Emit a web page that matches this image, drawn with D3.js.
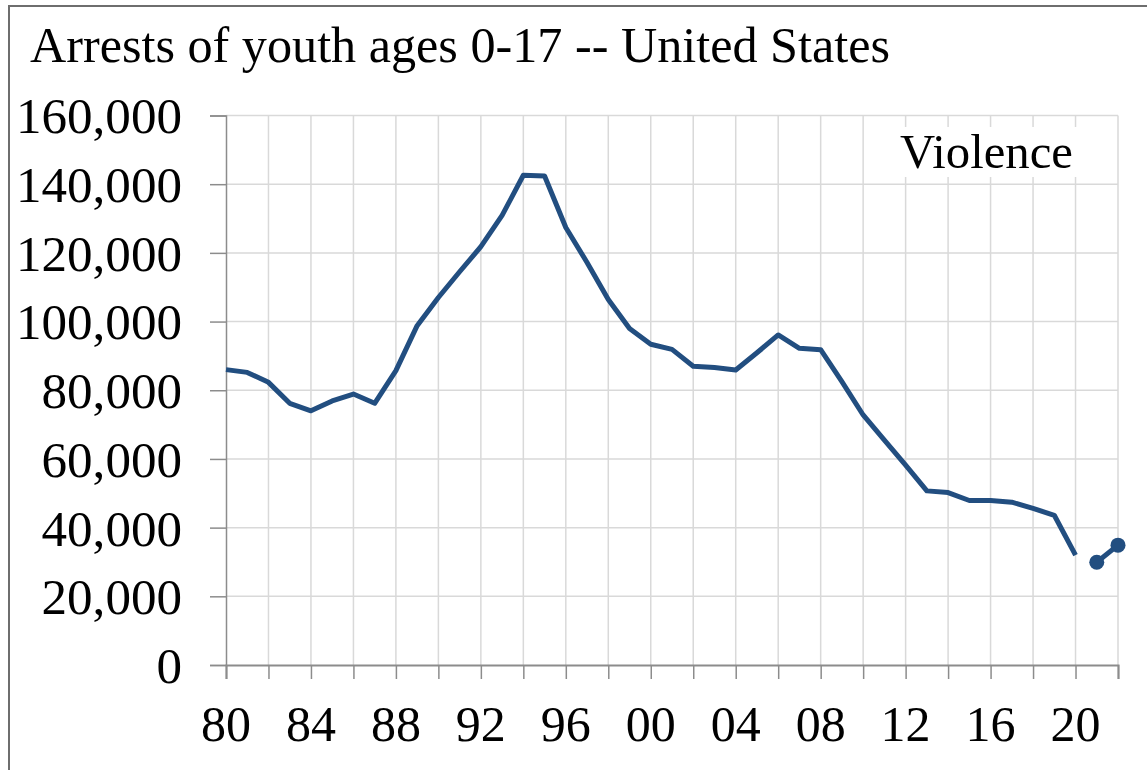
<!DOCTYPE html>
<html lang="en">
<head>
<meta charset="utf-8" />
<title>Arrests of youth ages 0-17 -- United States</title>
<style>
    body { margin: 0; background: #fff; }
    svg text { font-family: "Liberation Serif", serif; fill: #000; }
</style>
<script src="https://cdn.jsdelivr.net/npm/d3@7/dist/d3.min.js"></script>
</head>
<body>
<script>
// yearly arrests 1980-2020 (main line) and 2021-2022 (new series, with markers)
var years = d3.range(1980, 2021);
var arrests = [86000, 85200, 82300, 76200, 74000, 76900, 78900, 76200, 85700, 98800,
               107000, 114500, 121800, 130900, 142600, 142400, 127400, 117200, 106400, 98000,
               93400, 91900, 87000, 86600, 85900, 90900, 96100, 92200, 91800, 82500,
               72800, 65500, 58200, 50700, 50200, 47900, 47900, 47400, 45600, 43600,
               32000];
var recentYears = [2021, 2022];
var recentArrests = [29900, 34900];

var yTicks = [0, 20000, 40000, 60000, 80000, 100000, 120000, 140000, 160000];
var xLabelYears = [1980, 1984, 1988, 1992, 1996, 2000, 2004, 2008, 2012, 2016, 2020];

var width = 1147, height = 770;
var blue = '#224e80';

var svg = d3.select('body').append('svg')
    .attr('width', width)
    .attr('height', height);

// outer chart border (only top and left edges show in the frame)
svg.append('rect')
    .attr('x', 9).attr('y', 6)
    .attr('width', 1160).attr('height', 800)
    .attr('fill', 'none')
    .attr('stroke', '#6e6e6e')
    .attr('stroke-width', 2);

var x = d3.scaleLinear().domain([1980, 2022]).range([226, 1118]);
var y = d3.scaleLinear().domain([0, 160000]).range([665, 115.5]);

// font size that makes one sample text take the width seen in the picture
function fitSize(sel, w) {
    var fs = parseFloat(sel.attr('font-size'));
    return fs * w / sel.node().getComputedTextLength();
}

// grid
var grid = svg.append('g');
grid.selectAll('line.h')
    .data(yTicks.slice(1))
    .enter().append('line')
    .attr('x1', x(1980)).attr('x2', x(2022))
    .attr('y1', function(d) { return y(d); })
    .attr('y2', function(d) { return y(d); })
    .attr('stroke', '#d9d9d9').attr('stroke-width', 1.5);
grid.selectAll('line.v')
    .data(d3.range(1982, 2023, 2))
    .enter().append('line')
    .attr('x1', function(d) { return x(d); })
    .attr('x2', function(d) { return x(d); })
    .attr('y1', y(160000)).attr('y2', y(0))
    .attr('stroke', '#d9d9d9').attr('stroke-width', 1.5);

// y axis
var yAxis = svg.append('g')
    .attr('transform', 'translate(' + x(1980) + ',0)')
    .call(d3.axisLeft(y).tickValues(yTicks).tickSize(16).tickFormat(''));
yAxis.select('.domain').attr('stroke', '#8c8c8c').attr('stroke-width', 1.5);
yAxis.selectAll('.tick line').attr('stroke', '#8c8c8c').attr('stroke-width', 1.5);

var yLabels = svg.append('g').selectAll('text')
    .data(yTicks)
    .enter().append('text')
    .attr('x', 182)
    .attr('y', function(d) { return y(d); })
    .attr('dy', '0.35em')
    .attr('text-anchor', 'end')
    .attr('font-size', 44)
    .text(d3.format(','));
var yfs = fitSize(yLabels.filter(function(d) { return d === 160000; }), 166);
yLabels.attr('font-size', yfs.toFixed(2));

// x axis
var xAxis = svg.append('g')
    .attr('transform', 'translate(0,' + y(0) + ')')
    .call(d3.axisBottom(x).tickValues(d3.range(1980, 2023, 2)).tickSize(14).tickFormat(''));
xAxis.select('.domain').attr('stroke', '#8c8c8c').attr('stroke-width', 2);
xAxis.selectAll('.tick line').attr('stroke', '#8c8c8c').attr('stroke-width', 1.5);

var xLabels = svg.append('g').selectAll('text')
    .data(xLabelYears)
    .enter().append('text')
    .attr('x', function(d) { return x(d); })
    .attr('y', 741)
    .attr('text-anchor', 'middle')
    .attr('font-size', 46)
    .text(function(d) { return d3.format('02')(d % 100); });
var xfs = fitSize(xLabels.filter(function(d) { return d === 1980; }), 50);
xLabels.attr('font-size', xfs.toFixed(2));

// title
var title = svg.append('text')
    .attr('x', 30).attr('y', 62)
    .attr('font-size', 46)
    .text('Arrests of youth ages 0-17 -- United States');
title.attr('font-size', fitSize(title, 860).toFixed(2));

// series label with white backing
var labelBg = svg.append('rect').attr('fill', '#fff');
var label = svg.append('text')
    .attr('x', 900).attr('y', 168)
    .attr('font-size', 46)
    .text('Violence');
label.attr('font-size', fitSize(label, 173).toFixed(2));
var bb = label.node().getBBox();
labelBg.attr('x', bb.x - 4).attr('y', bb.y + 2)
    .attr('width', bb.width + 8).attr('height', bb.height - 4);

// lines
var line = d3.line()
    .x(function(d) { return x(d[0]); })
    .y(function(d) { return y(d[1]); });

svg.append('path')
    .datum(d3.zip(years, arrests))
    .attr('d', line)
    .attr('fill', 'none')
    .attr('stroke', blue)
    .attr('stroke-width', 5)
    .attr('stroke-linejoin', 'round');

var recent = d3.zip(recentYears, recentArrests);
svg.append('path')
    .datum(recent)
    .attr('d', line)
    .attr('fill', 'none')
    .attr('stroke', blue)
    .attr('stroke-width', 5);
svg.append('g').selectAll('circle')
    .data(recent)
    .enter().append('circle')
    .attr('cx', function(d) { return x(d[0]); })
    .attr('cy', function(d) { return y(d[1]); })
    .attr('r', 7.5)
    .attr('fill', blue);
</script>
</body>
</html>
